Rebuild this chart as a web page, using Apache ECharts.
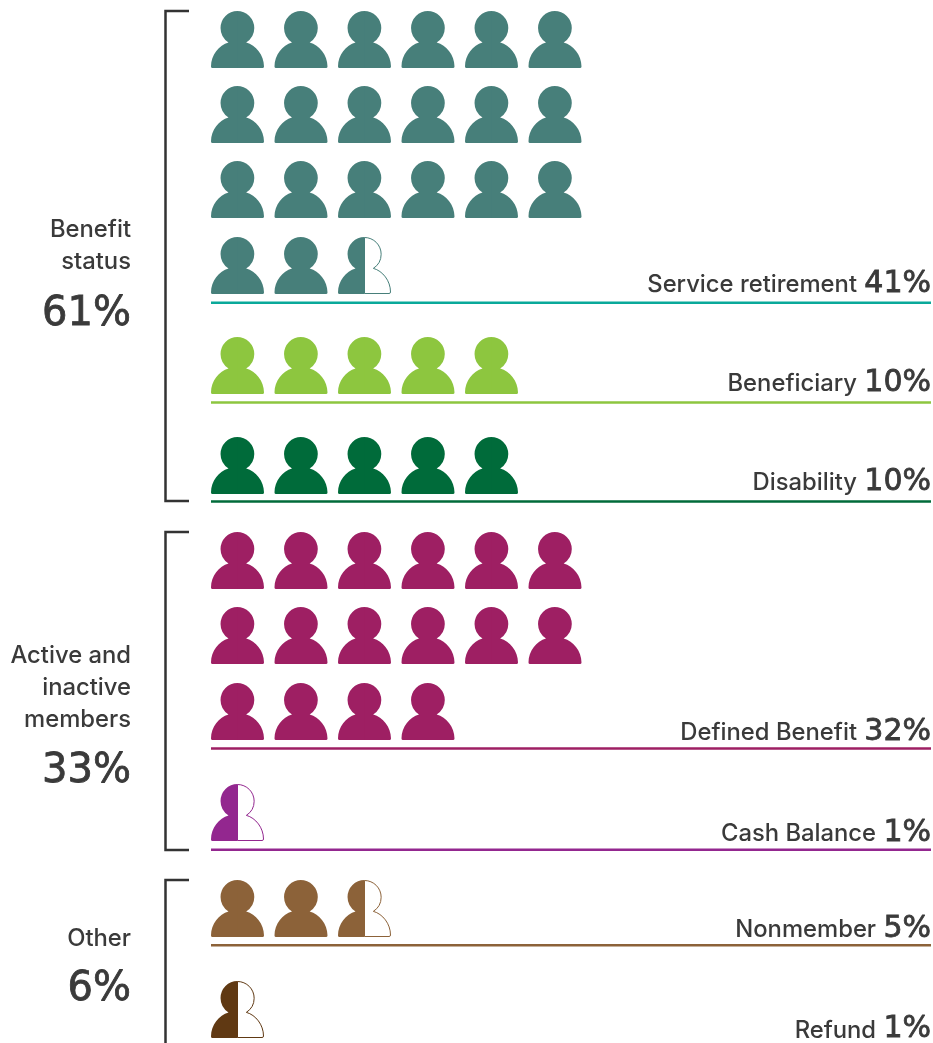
<!DOCTYPE html>
<html>

<head>
    <meta charset="utf-8">
    <title>Membership by status</title>
    <script src="https://cdnjs.cloudflare.com/ajax/libs/echarts/6.0.0/echarts.min.js"></script>
    <style>
        html, body { margin: 0; padding: 0; background: #fff; overflow: hidden; }
    </style>
</head>

<body>
    <div id="main" style="width: 933px; height: 1043px"></div>
    <script type="text/javascript">
        // one figure = 2% of members
        var categories = ['Service retirement', 'Beneficiary', 'Disability', 'Defined Benefit', 'Cash Balance', 'Nonmember', 'Refund'];
        var shares = [41, 10, 10, 32, 1, 5, 1];
        var figuresPerRow = [[6, 6, 6, 2.5], [5], [5], [6, 6, 4], [0.5], [2.5], [0.5]];

        var groupLabels = [['Benefit', 'status'], ['Active and', 'inactive', 'members'], ['Other']];
        var groupShares = [61, 33, 6];

        // layout
        var figureColors = ['#477f7a', '#8dc63f', '#006b3a', '#9e1f63', '#93278f', '#8c6239', '#603913'];
        var ruleColors = ['#0aa99a', '#8dc63f', '#006b3a', '#9e1f63', '#93278f', '#8c6239', '#603913'];
        var rowBottoms = [[68, 143, 218, 294], [394], [494], [589, 664, 740], [841], [937], [1038]];
        var ruleY = [302.7, 402.5, 501.5, 748.5, 849.7, 945.3, 1047];
        var labelBottomY = [299.2, 398, 497, 747, 848.2, 943.8, 1044.5];
        var brackets = [[11, 501], [532, 850], [880, 1060]];
        var groupLineY = [[230, 262], [656, 688, 720], [939]];
        var groupShareY = [315, 772, 990];

        var pitch = 63.5;
        var figW = 53, figH = 57;
        var textColor = '#3a3a3a';
        var labelFont = 'Inter, "Liberation Sans", sans-serif';
        var numberFont = '"DejaVu Sans", sans-serif';

        var rightHalf = 'M26.5 0 A17 17 0 0 1 35.5 31.4 C45 34 53 44 53 55.5 Q53 57 51.5 57 L26.5 57 Z';
        var leftHalf = 'M26.5 0 A17 17 0 0 0 17.5 31.4 C8 34 0 44 0 55.5 Q0 57 1.5 57 L26.5 57 Z';

        function figureItems(catIndex) {
            var items = [];
            figuresPerRow[catIndex].forEach(function (count, r) {
                for (var c = 0; c < count; c++) {
                    items.push([c, rowBottoms[catIndex][r], Math.min(count - c, 1)]);
                }
            });
            return items;
        }

        function renderFigure(color) {
            return function (params, api) {
                var p = api.coord([api.value(0), api.value(1)]);
                var x = p[0], y = p[1] - figH;
                var children = [];
                if (api.value(2) < 1) {
                    children.push({
                        type: 'path',
                        shape: { pathData: rightHalf, x: x + figW / 2, y: y + 0.5, width: figW / 2 - 0.5, height: figH - 1, layout: 'cover' },
                        style: { fill: '#fff', stroke: color, lineWidth: 1 }
                    });
                } else {
                    children.push({
                        type: 'path',
                        shape: { pathData: rightHalf, x: x + figW / 2 - 0.5, y: y, width: figW / 2 + 0.5, height: figH, layout: 'cover' },
                        style: { fill: color }
                    });
                }
                children.push({
                    type: 'path',
                    shape: { pathData: leftHalf, x: x, y: y, width: figW / 2, height: figH, layout: 'cover' },
                    style: { fill: color }
                });
                return { type: 'group', children: children };
            };
        }

        function renderRule(params, api) {
            var i = params.dataIndex;
            var start = api.coord([0, ruleY[i]]);
            var end = api.coord([api.value(0), ruleY[i]]);
            return {
                type: 'group',
                children: [{
                    type: 'line',
                    shape: { x1: start[0], y1: start[1], x2: end[0], y2: end[1] },
                    style: { stroke: ruleColors[i], lineWidth: 2.5 }
                }, {
                    type: 'text',
                    style: {
                        x: end[0],
                        y: labelBottomY[i],
                        align: 'right',
                        verticalAlign: 'bottom',
                        text: '{name|' + categories[i] + '} {pct|' + shares[i] + '%}',
                        rich: {
                            name: { font: '500 23.8px ' + labelFont, fill: textColor, verticalAlign: 'bottom', padding: [0, 0, 2, 0] },
                            pct: { font: '500 30px ' + numberFont, fill: textColor, stroke: textColor, lineWidth: 0.8, verticalAlign: 'bottom', padding: [0, 0, 0, 4] }
                        }
                    }
                }]
            };
        }

        var xMax = (931 - 211) / pitch;

        var series = categories.map(function (name, i) {
            return {
                type: 'custom',
                name: name,
                coordinateSystem: 'cartesian2d',
                silent: true,
                renderItem: renderFigure(figureColors[i]),
                encode: { x: 0, y: 1 },
                data: figureItems(i),
                clip: false
            };
        });
        series.push({
            type: 'custom',
            name: 'rules',
            coordinateSystem: 'cartesian2d',
            silent: true,
            renderItem: renderRule,
            data: categories.map(function () { return [xMax, 0]; }),
            clip: false
        });

        var graphics = [];
        brackets.forEach(function (b) {
            graphics.push({
                type: 'polyline',
                shape: { points: [[189, b[0]], [165.5, b[0]], [165.5, b[1]], [189, b[1]]] },
                style: { stroke: '#333', lineWidth: 2.5, fill: null }
            });
        });
        groupLabels.forEach(function (lines, g) {
            lines.forEach(function (line, l) {
                graphics.push({
                    type: 'text',
                    x: 131,
                    y: groupLineY[g][l],
                    style: { text: line, font: '500 23.8px ' + labelFont, fill: textColor, align: 'right', verticalAlign: 'middle' }
                });
            });
            graphics.push({
                type: 'text',
                x: 131,
                y: groupShareY[g],
                style: { text: groupShares[g] + '%', font: '500 40px ' + numberFont, fill: textColor, stroke: textColor, lineWidth: 0.8, align: 'right', verticalAlign: 'middle' }
            });
        });

        var myChart = echarts.init(document.getElementById('main'), null, { renderer: 'canvas' });

        var option = {
            animation: false,
            backgroundColor: '#fff',
            grid: { left: 211, right: 2, top: 0, bottom: 0 },
            xAxis: { type: 'value', min: 0, max: xMax, show: false },
            yAxis: { type: 'value', min: 0, max: 1043, inverse: true, show: false },
            graphic: graphics,
            series: series
        };

        myChart.setOption(option);
    </script>
</body>

</html>
